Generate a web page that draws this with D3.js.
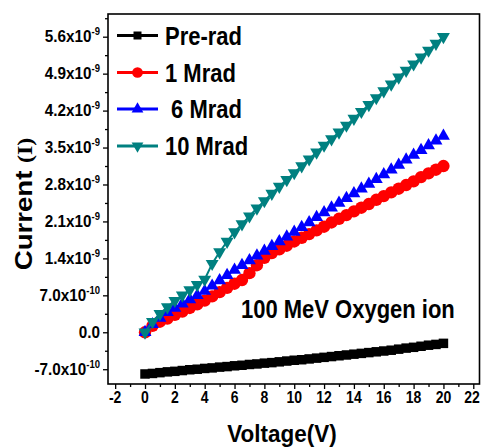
<!DOCTYPE html>
<html>
<head>
<meta charset="utf-8">
<script src="https://cdn.jsdelivr.net/npm/d3@7"></script>
<style>
  html, body { margin: 0; padding: 0; background: #fff; }
  svg { display: block; }
  text { font-family: Arial, "Liberation Sans", sans-serif; font-weight: bold; fill: #000; }
</style>
</head>
<body>
<svg id="chart" width="481" height="447"></svg>
<script>
// Bias sweep (V)
const voltage = [0, 0.5, 1, 1.5, 2, 2.5, 3, 3.5, 4, 4.5, 5, 5.5, 6, 6.5, 7, 7.5, 8, 8.5, 9, 9.5,
  10, 10.5, 11, 11.5, 12, 12.5, 13, 13.5, 14, 14.5, 15, 15.5, 16, 16.5, 17, 17.5, 18, 18.5, 19, 19.5, 20];

// Current in units of 1e-9 A
const preRad = [-0.79, -0.78, -0.765, -0.75, -0.74, -0.725, -0.71, -0.70, -0.685, -0.675, -0.66, -0.65,
  -0.635, -0.625, -0.61, -0.60, -0.585, -0.575, -0.56, -0.545, -0.53, -0.52, -0.505, -0.49, -0.475,
  -0.46, -0.445, -0.43, -0.415, -0.40, -0.385, -0.37, -0.355, -0.34, -0.32, -0.30, -0.285, -0.265,
  -0.245, -0.23, -0.21];
const mrad1 = [0, 0.12, 0.20, 0.26, 0.33, 0.39, 0.46, 0.53, 0.60, 0.68, 0.76, 0.84, 0.92, 0.99, 1.12,
  1.27, 1.41, 1.50, 1.57, 1.64, 1.72, 1.79, 1.86, 1.93, 2.00, 2.08, 2.15, 2.22, 2.29, 2.36, 2.43,
  2.51, 2.58, 2.65, 2.72, 2.79, 2.86, 2.94, 3.01, 3.08, 3.15];
const mrad6 = [0, 0.15, 0.27, 0.38, 0.46, 0.54, 0.62, 0.70, 0.78, 0.88, 0.98, 1.08, 1.18, 1.27, 1.36,
  1.45, 1.54, 1.63, 1.72, 1.81, 1.90, 1.99, 2.08, 2.18, 2.27, 2.36, 2.45, 2.54, 2.63, 2.72, 2.81,
  2.90, 2.99, 3.08, 3.17, 3.27, 3.36, 3.45, 3.54, 3.63, 3.72];
const mrad10 = [0, 0.20, 0.35, 0.48, 0.60, 0.70, 0.80, 0.90, 1.00, 1.30, 1.52, 1.72, 1.90, 2.05, 2.20,
  2.35, 2.49, 2.63, 2.76, 2.89, 3.02, 3.15, 3.28, 3.41, 3.54, 3.66, 3.79, 3.92, 4.05, 4.18, 4.31,
  4.44, 4.57, 4.70, 4.83, 4.96, 5.08, 5.21, 5.34, 5.47, 5.60];

const seriesNames = ["Pre-rad", "1 Mrad", " 6 Mrad", "10 Mrad"];
const seriesColors = ["#000000", "#ff0000", "#0000ff", "#008080"];

const xTicks = [-2, 0, 2, 4, 6, 8, 10, 12, 14, 16, 18, 20, 22];
const xMinorTicks = [-1, 1, 3, 5, 7, 9, 11, 13, 15, 17, 19, 21];
const yTicks = [-0.7, 0, 0.7, 1.4, 2.1, 2.8, 3.5, 4.2, 4.9, 5.6];
const yMinorTicks = [-0.35, 0.35, 1.05, 1.75, 2.45, 3.15, 3.85, 4.55, 5.25, 5.95];
const yTickMantissa = ["-7.0x10", "0.0", "7.0x10", "1.4x10", "2.1x10", "2.8x10", "3.5x10", "4.2x10", "4.9x10", "5.6x10"];
const yTickExponent = ["-10", "", "-10", "-9", "-9", "-9", "-9", "-9", "-9", "-9"];

const svg = d3.select("#chart");
const plot = { left: 108, right: 480, top: 14, bottom: 384 };

const x = d3.scaleLinear().domain([-2.48, 22.45]).range([plot.left, plot.right]);
const y = d3.scaleLinear().domain([-0.98, 6.03]).range([plot.bottom, plot.top]);

// ticks (outward)
const xAxisMajor = d3.axisBottom(x).tickValues(xTicks).tickSize(5).tickFormat("");
const xAxisMinor = d3.axisBottom(x).tickValues(xMinorTicks).tickSize(3).tickFormat("");
const yAxisMajor = d3.axisLeft(y).tickValues(yTicks).tickSize(5).tickFormat("");
const yAxisMinor = d3.axisLeft(y).tickValues(yMinorTicks).tickSize(3).tickFormat("");

function styleAxis(g) {
  g.select(".domain").remove();
  g.selectAll("line").attr("stroke", "#000").attr("stroke-width", 1.3);
}
svg.append("g").attr("transform", `translate(0,${plot.bottom})`).call(xAxisMajor).call(styleAxis);
svg.append("g").attr("transform", `translate(0,${plot.bottom})`).call(xAxisMinor).call(styleAxis);
svg.append("g").attr("transform", `translate(${plot.left},0)`).call(yAxisMajor).call(styleAxis);
svg.append("g").attr("transform", `translate(${plot.left},0)`).call(yAxisMinor).call(styleAxis);

// frame
svg.append("rect")
  .attr("x", plot.left).attr("y", plot.top)
  .attr("width", plot.right - plot.left - 0.5).attr("height", plot.bottom - plot.top)
  .attr("fill", "none").attr("stroke", "#000").attr("stroke-width", 1.6);

// x tick labels
svg.append("g").selectAll("text").data(xTicks).join("text")
  .attr("transform", d => `translate(${Math.min(x(d), 472)},403) scale(1,1.15)`)
  .attr("text-anchor", "middle")
  .attr("font-size", 14)
  .text(d => d);

// y tick labels with superscript exponents
const yl = svg.append("g").selectAll("text").data(yTicks).join("text")
  .attr("transform", d => `translate(100,${y(d) + 5.5}) scale(1,1.08)`)
  .attr("text-anchor", "end")
  .attr("font-size", 15.3);
yl.append("tspan").text((d, i) => yTickMantissa[i]);
yl.append("tspan").attr("dy", -6.5).attr("font-size", 9.5).text((d, i) => yTickExponent[i]);

// axis titles
svg.append("text")
  .attr("transform", "translate(282,442) scale(1,1.05)")
  .attr("text-anchor", "middle")
  .attr("font-size", 22.5)
  .text("Voltage(V)");

const yt = svg.append("text")
  .attr("transform", "translate(32,204) rotate(-90) scale(1.2,1)")
  .attr("text-anchor", "middle")
  .attr("font-size", 23);
yt.append("tspan").text("Current ");
yt.append("tspan").attr("font-family", "'Liberation Serif', 'Times New Roman', serif").attr("font-size", 20).text("(I)");

// series
const allSeries = [preRad, mrad1, mrad6, mrad10];
const symbols = [
  d3.symbol().type(d3.symbolSquare).size(90),
  d3.symbol().type(d3.symbolCircle).size(120),
  d3.symbol().type(d3.symbolTriangle).size(72),
  d3.symbol().type(d3.symbolTriangle).size(72)
];
const legendSymbols = [
  d3.symbol().type(d3.symbolSquare).size(64),
  d3.symbol().type(d3.symbolCircle).size(90),
  d3.symbol().type(d3.symbolTriangle).size(60),
  d3.symbol().type(d3.symbolTriangle).size(60)
];
const rotations = [0, 0, 0, 180];

const line = d3.line().x(d => x(d[0])).y(d => y(d[1]));

allSeries.forEach((vals, si) => {
  const pts = voltage.map((v, i) => [v, vals[i]]);
  const g = svg.append("g");
  g.append("path").datum(pts)
    .attr("d", line)
    .attr("fill", "none")
    .attr("stroke", seriesColors[si])
    .attr("stroke-width", si === 1 ? 6 : 2);
  g.selectAll("path.m").data(pts).join("path")
    .attr("class", "m")
    .attr("d", symbols[si])
    .attr("transform", d => `translate(${x(d[0])},${y(d[1])}) rotate(${rotations[si]})`)
    .attr("fill", seriesColors[si]);
});

// legend
const legendRows = [35.5, 72.5, 109, 146];
const lg = svg.append("g");
seriesNames.forEach((name, i) => {
  const ry = legendRows[i];
  lg.append("line")
    .attr("x1", 117).attr("x2", 158).attr("y1", ry).attr("y2", ry)
    .attr("stroke", seriesColors[i]).attr("stroke-width", 3);
  lg.append("path")
    .attr("d", legendSymbols[i])
    .attr("transform", `translate(137.5,${ry}) rotate(${rotations[i]})`)
    .attr("fill", seriesColors[i]);
  lg.append("text")
    .attr("transform", `translate(165,${ry + 9}) scale(1,1.15)`)
    .attr("font-size", 22)
    .style("white-space", "pre")
    .text(name);
});

// annotation
svg.append("text")
  .attr("transform", "translate(241,318) scale(1,1.15)")
  .attr("font-size", 22)
  .text("100 MeV Oxygen ion");
</script>
</body>
</html>
